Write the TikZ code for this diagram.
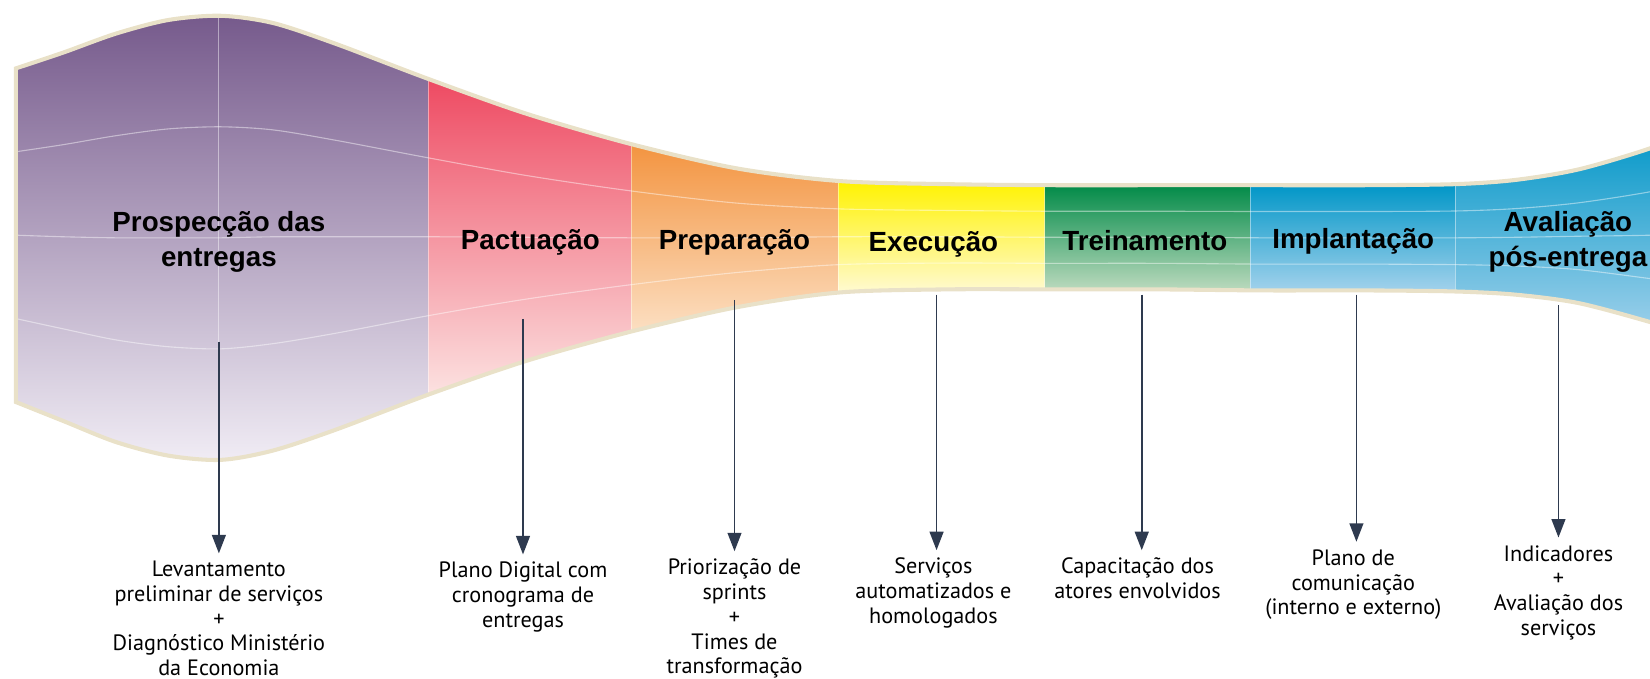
\documentclass[tikz,border=0pt]{standalone}
\usepackage{fontspec}
\setmainfont{PT Sans}
\newfontfamily\titlefont{Liberation Sans}
\usetikzlibrary{arrows.meta,calc}

\definecolor{rimcol}{HTML}{E9E1C8}
\definecolor{arrowcol}{HTML}{2E3A4F}
\definecolor{prostop}{HTML}{765A8C}
\definecolor{prosmid}{HTML}{A690B6}
\definecolor{prosbot}{HTML}{F1EDF5}
\definecolor{pacttop}{HTML}{EE4A62}
\definecolor{pactbot}{HTML}{FCE3E2}
\definecolor{preptop}{HTML}{F39440}
\definecolor{prepbot}{HTML}{FCE0C4}
\definecolor{exectop}{HTML}{FFF200}
\definecolor{execbot}{HTML}{FFFAD2}
\definecolor{treitop}{HTML}{008A47}
\definecolor{treibot}{HTML}{BCDABE}
\definecolor{impltop}{HTML}{0096C7}
\definecolor{implbot}{HTML}{A3D2EC}

\tikzset{
  stagetitle/.style={font=\titlefont\bfseries\fontsize{15}{19}\selectfont, align=center, text=black},
  stagenote/.style={font=\fontsize{12}{13.4}\selectfont, align=center, anchor=north, inner sep=0.5pt, text=black},
  stagearrow/.style={draw=arrowcol, line width=0.9pt, shorten >=3.5pt, -{Triangle[width=7.5pt,length=10pt]}},
  gridline/.style={white, opacity=0.45, line width=0.6pt},
  rim/.style={draw=rimcol, line width=2.2pt},
}

\begin{document}
\begin{tikzpicture}[x=0.2mm, y=-0.2mm]
\useasboundingbox (0,0) rectangle (1568,645);

% Funnel outline (top and bottom edge), plus the three inner lines
\foreach \n/\x/\t/\b in {0/15/65/382, 1/60/50/400, 2/110/32/420, 3/160/19/433,
    4/210/15/437, 5/260/22/428, 6/320/42/408, 7/407/75/375, 8/500/108/343,
    9/600/137/315, 10/700/160/292, 11/797/172/278, 12/900/175/275, 13/1000/176/275,
    14/1100/176/275, 15/1200/176/276, 16/1300/176/276, 17/1383/175/277,
    18/1440/171/280, 19/1500/161/288, 20/1568/141/306, 21/1620/120/322}{
  \coordinate (t\n) at (\x,\t);
  \coordinate (b\n) at (\x,\b);
  \coordinate (gax\n) at ($(t\n)!0.25!(b\n)$);
  \coordinate (gbx\n) at ($(t\n)!0.5!(b\n)$);
  \coordinate (gcx\n) at ($(t\n)!0.75!(b\n)$);
}
\path[save path=\funnel]
  plot[smooth, variable=\i, samples at={0,...,21}] (t\i)
  -- plot[smooth, variable=\i, samples at={21,20,...,0}] (b\i) -- cycle;

\begin{scope}
  \clip (0,0) rectangle (1568,645);
  \clip[use path=\funnel];
  % Stage colours
  \shade[top color=prostop, middle color=prosmid, bottom color=prosbot] (0,15) rectangle (407,440);
  \shade[top color=pacttop, bottom color=pactbot] (407,75) rectangle (600,378);
  \shade[top color=preptop, bottom color=prepbot] (600,137) rectangle (797,318);
  \shade[top color=exectop, bottom color=execbot] (797,172) rectangle (993,278);
  \shade[top color=treitop, bottom color=treibot] (993,175) rectangle (1188,276);
  \shade[top color=impltop, bottom color=implbot] (1188,175) rectangle (1383,277);
  \shade[top color=impltop, bottom color=implbot] (1383,120) rectangle (1620,322);

  % Grid lines
  \foreach \g in {ga,gb,gc}
    \draw[gridline] plot[smooth, variable=\i, samples at={0,...,21}] (\g x\i);
  \foreach \x in {208,407,600,797,993,1188,1383}
    \draw[gridline] (\x,0) -- (\x,460);
\end{scope}
\begin{scope}
  \clip (0,0) rectangle (1568,645);
  \draw[rim, use path=\funnel];
\end{scope}

% Stage titles
\node[stagetitle] (pros) at (208,230) {Prospecção das\\entregas};
\node[stagetitle] (pact) at (504,230) {Pactuação};
\node[stagetitle] (prep) at (698,230) {Preparação};
\node[stagetitle] (exec) at (887,232) {Execução};
\node[stagetitle] (trei) at (1088,229) {Treinamento};
\node[stagetitle] (impl) at (1286,229) {Implantação};
\node[stagetitle] (aval) at (1490,230) {Avaliação\\pós-entrega};

% Deliverables
\node[stagenote] (prosnote) at (208,532) {Levantamento\\preliminar de serviços\\+\\Diagnóstico Ministério\\da Economia};
\node[stagenote] (pactnote) at (497,533) {Plano Digital com\\cronograma de\\entregas};
\node[stagenote] (prepnote) at (698,530) {Priorização de\\sprints\\+\\Times de\\transformação};
\node[stagenote] (execnote) at (887,529) {Serviços\\automatizados e\\homologados};
\node[stagenote] (treinote) at (1081,529) {Capacitação dos\\atores envolvidos};
\node[stagenote] (implnote) at (1286,521) {Plano de\\comunicação\\(interno e externo)};
\node[stagenote] (avalnote) at (1481,517) {Indicadores\\+\\Avaliação dos\\serviços};

% Arrows
\foreach \s/\x/\y in {pros/208/325, pact/497/303, prep/698/285, exec/890/280,
    trei/1085/280, impl/1289/280, aval/1481/290}{
  \coordinate (\s top) at (\x,\y);
  \draw[stagearrow] (\s top) -- (\s top |- \s note.north);
}
\end{tikzpicture}
\end{document}
